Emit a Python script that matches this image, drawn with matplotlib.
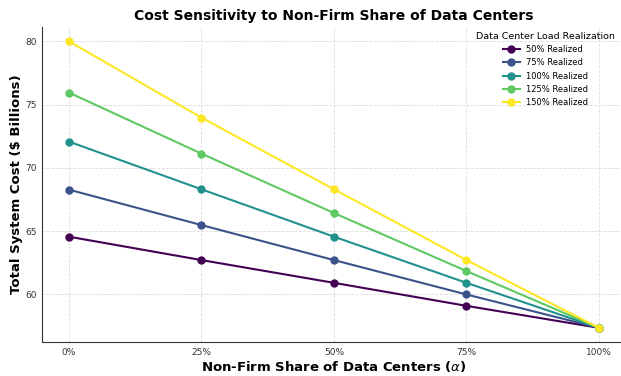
import matplotlib
matplotlib.use("Agg")
import matplotlib.pyplot as plt
import numpy as np

# Non-firm share of data centers (alpha)
alpha = [0.0, 0.25, 0.50, 0.75, 1.00]
alpha_labels = ["0%", "25%", "50%", "75%", "100%"]

# Total system cost ($ billions) per load realization scenario
cost_50 = [64.55, 62.70, 60.90, 59.08, 57.34]
cost_75 = [68.27, 65.47, 62.70, 59.98, 57.34]
cost_100 = [72.07, 68.30, 64.55, 60.90, 57.34]
cost_125 = [75.95, 71.12, 66.42, 61.83, 57.34]
cost_150 = [80.00, 73.97, 68.30, 62.70, 57.34]

escenarios = ["50% Realized", "75% Realized", "100% Realized",
              "125% Realized", "150% Realized"]
series = [cost_50, cost_75, cost_100, cost_125, cost_150]

colores = plt.cm.viridis(np.linspace(0, 1, len(series)))

fig, ax = plt.subplots(figsize=(6.21, 3.76), dpi=100)

for nombre, valores, color in zip(escenarios, series, colores):
    ax.plot(alpha, valores, marker='o', markersize=5, linewidth=1.5,
            color=color, label=nombre)

ax.set_xticks(alpha)
ax.set_xticklabels(alpha_labels, fontsize=6.5)
ax.set_yticks([60, 65, 70, 75, 80])
ax.tick_params(axis='y', labelsize=6.5)
ax.tick_params(length=0, pad=4, labelcolor='#333333')

ax.set_xlabel(r'Non-Firm Share of Data Centers ($\alpha$)', fontsize=9.5, fontweight='bold', labelpad=1.5)
ax.set_ylabel('Total System Cost ($ Billions)', fontsize=9.5, fontweight='bold', labelpad=2)
ax.set_title('Cost Sensitivity to Non-Firm Share of Data Centers', fontsize=10, fontweight='bold', pad=5)

ax.grid(True, color='#cccccc', alpha=0.7, linestyle='--', linewidth=0.6)
ax.spines['top'].set_visible(False)
ax.spines['right'].set_visible(False)
for lado in ['left', 'bottom']:
    ax.spines[lado].set_color('#333333')
    ax.spines[lado].set_linewidth(0.8)

ax.legend(title='Data Center Load Realization', fontsize=6, title_fontsize=6.8,
          frameon=False, loc='upper right', bbox_to_anchor=(0.9906, 1.0),
          borderaxespad=0.2, handlelength=2.0, labelspacing=0.5)

plt.subplots_adjust(left=0.0684, right=1.0072, bottom=0.09, top=0.928)
plt.savefig('out.png', dpi=100)
